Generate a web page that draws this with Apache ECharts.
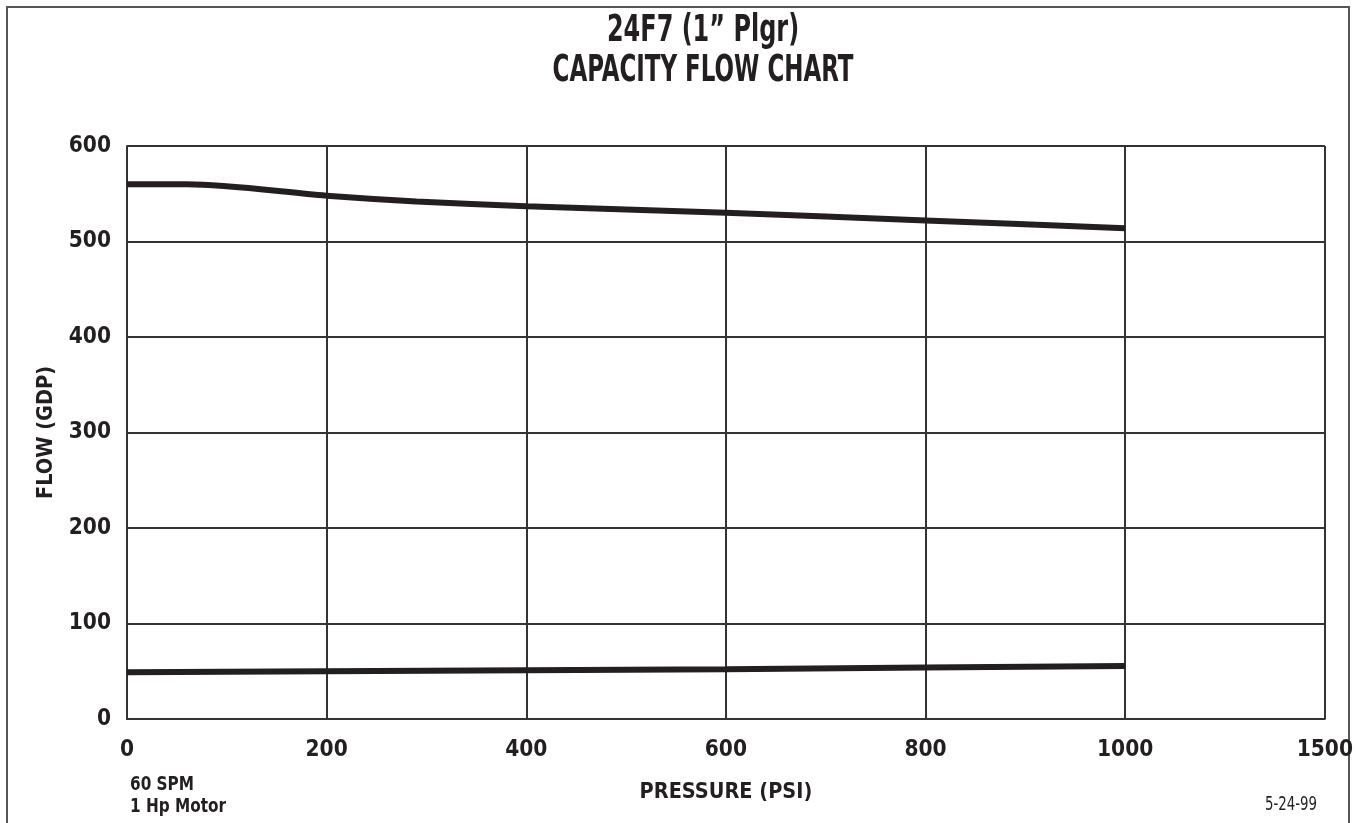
<!DOCTYPE html>
<html>
<head>
<meta charset="utf-8">
<script src="https://cdn.jsdelivr.net/npm/echarts@6/dist/echarts.min.js"></script>
<style>
html,body{margin:0;padding:0;background:#fff;}
#main{width:1356px;height:823px;}
</style>
</head>
<body>
<div id="main"></div>
<script>
// Data
const xTickLabels = ['0', '200', '400', '600', '800', '1000', '1500'];
const yTickLabels = ['0', '100', '200', '300', '400', '500', '600'];
const upperPressure = [0, 60, 200, 290, 400, 600, 800, 1000];
const upperFlow = [560, 560, 548, 542, 537, 530, 522, 514];
const lowerPressure = [0, 200, 400, 600, 800, 1000];
const lowerFlow = [49, 50, 51, 52, 54, 55.5];
const titleLines = ['24F7 (1\u201D Plgr)', 'CAPACITY FLOW CHART'];
const noteLines = ['60 SPM', '1 Hp Motor'];
const dateNote = '5-24-99';

const FONT = '"DejaVu Sans Condensed", "Liberation Sans Narrow", "Roboto", sans-serif';
const INK = '#231f20';

function txt(text, x, y, size, weight, sx, align, valign) {
  return {
    type: 'text', silent: true, x: x, y: y, scaleX: sx, scaleY: 1,
    style: {
      text: text, fontFamily: FONT, fontSize: size, fontWeight: weight,
      fill: INK, align: align, verticalAlign: valign
    }
  };
}

const chart = echarts.init(document.getElementById('main'), null, {renderer: 'canvas'});
const option = {
  backgroundColor: '#fff',
  animation: false,
  graphic: [
    {
      type: 'rect', silent: true,
      shape: {x: 7, y: 7, width: 1342, height: 840},
      style: {fill: 'none', stroke: '#555', lineWidth: 2}
    },
    txt(titleLines[0], 703, 31, 37, 'bold', 0.72, 'center', 'middle'),
    txt(titleLines[1], 703, 71, 37, 'bold', 0.69, 'center', 'middle'),
    txt(noteLines[0], 130, 785, 20, 'bold', 0.85, 'left', 'middle'),
    txt(noteLines[1], 130, 807, 20, 'bold', 0.85, 'left', 'middle'),
    txt(dateNote, 1265, 805, 19, 'normal', 0.78, 'left', 'middle')
  ],
  grid: {left: 127, right: 31, top: 146, bottom: 104, containLabel: false},
  xAxis: {
    type: 'value', min: 0, max: 1200, interval: 200,
    name: 'PRESSURE (PSI)', nameLocation: 'middle', nameGap: 62,
    nameTextStyle: {fontFamily: FONT, fontWeight: 'bold', fontSize: 21.5, color: INK},
    axisLine: {show: true, lineStyle: {color: '#333', width: 2}},
    axisTick: {show: false},
    axisLabel: {
      margin: 20, fontFamily: FONT, fontWeight: 'bold', fontSize: 22.5, color: INK,
      formatter: function (v) { return xTickLabels[Math.round(v / 200)]; }
    },
    splitLine: {show: true, lineStyle: {color: '#333', width: 2}}
  },
  yAxis: {
    type: 'value', min: 0, max: 600, interval: 100,
    name: 'FLOW (GDP)', nameLocation: 'middle', nameGap: 70, nameRotate: 90,
    nameTextStyle: {fontFamily: FONT, fontWeight: 'bold', fontSize: 21.5, color: INK},
    axisLine: {show: true, lineStyle: {color: '#333', width: 2}},
    axisTick: {show: false},
    axisLabel: {
      margin: 16, fontFamily: FONT, fontWeight: 'bold', fontSize: 22.5, color: INK,
      formatter: function (v) { return yTickLabels[Math.round(v / 100)]; }
    },
    splitLine: {show: true, lineStyle: {color: '#333', width: 2}}
  },
  series: [
    {
      type: 'line', smooth: 0.3, symbol: 'none',
      data: upperPressure.map((p, i) => [p, upperFlow[i]]),
      lineStyle: {color: INK, width: 6, cap: 'butt'}
    },
    {
      type: 'line', smooth: false, symbol: 'none',
      data: lowerPressure.map((p, i) => [p, lowerFlow[i]]),
      lineStyle: {color: INK, width: 6, cap: 'butt'}
    }
  ]
};
chart.setOption(option);
</script>
</body>
</html>
